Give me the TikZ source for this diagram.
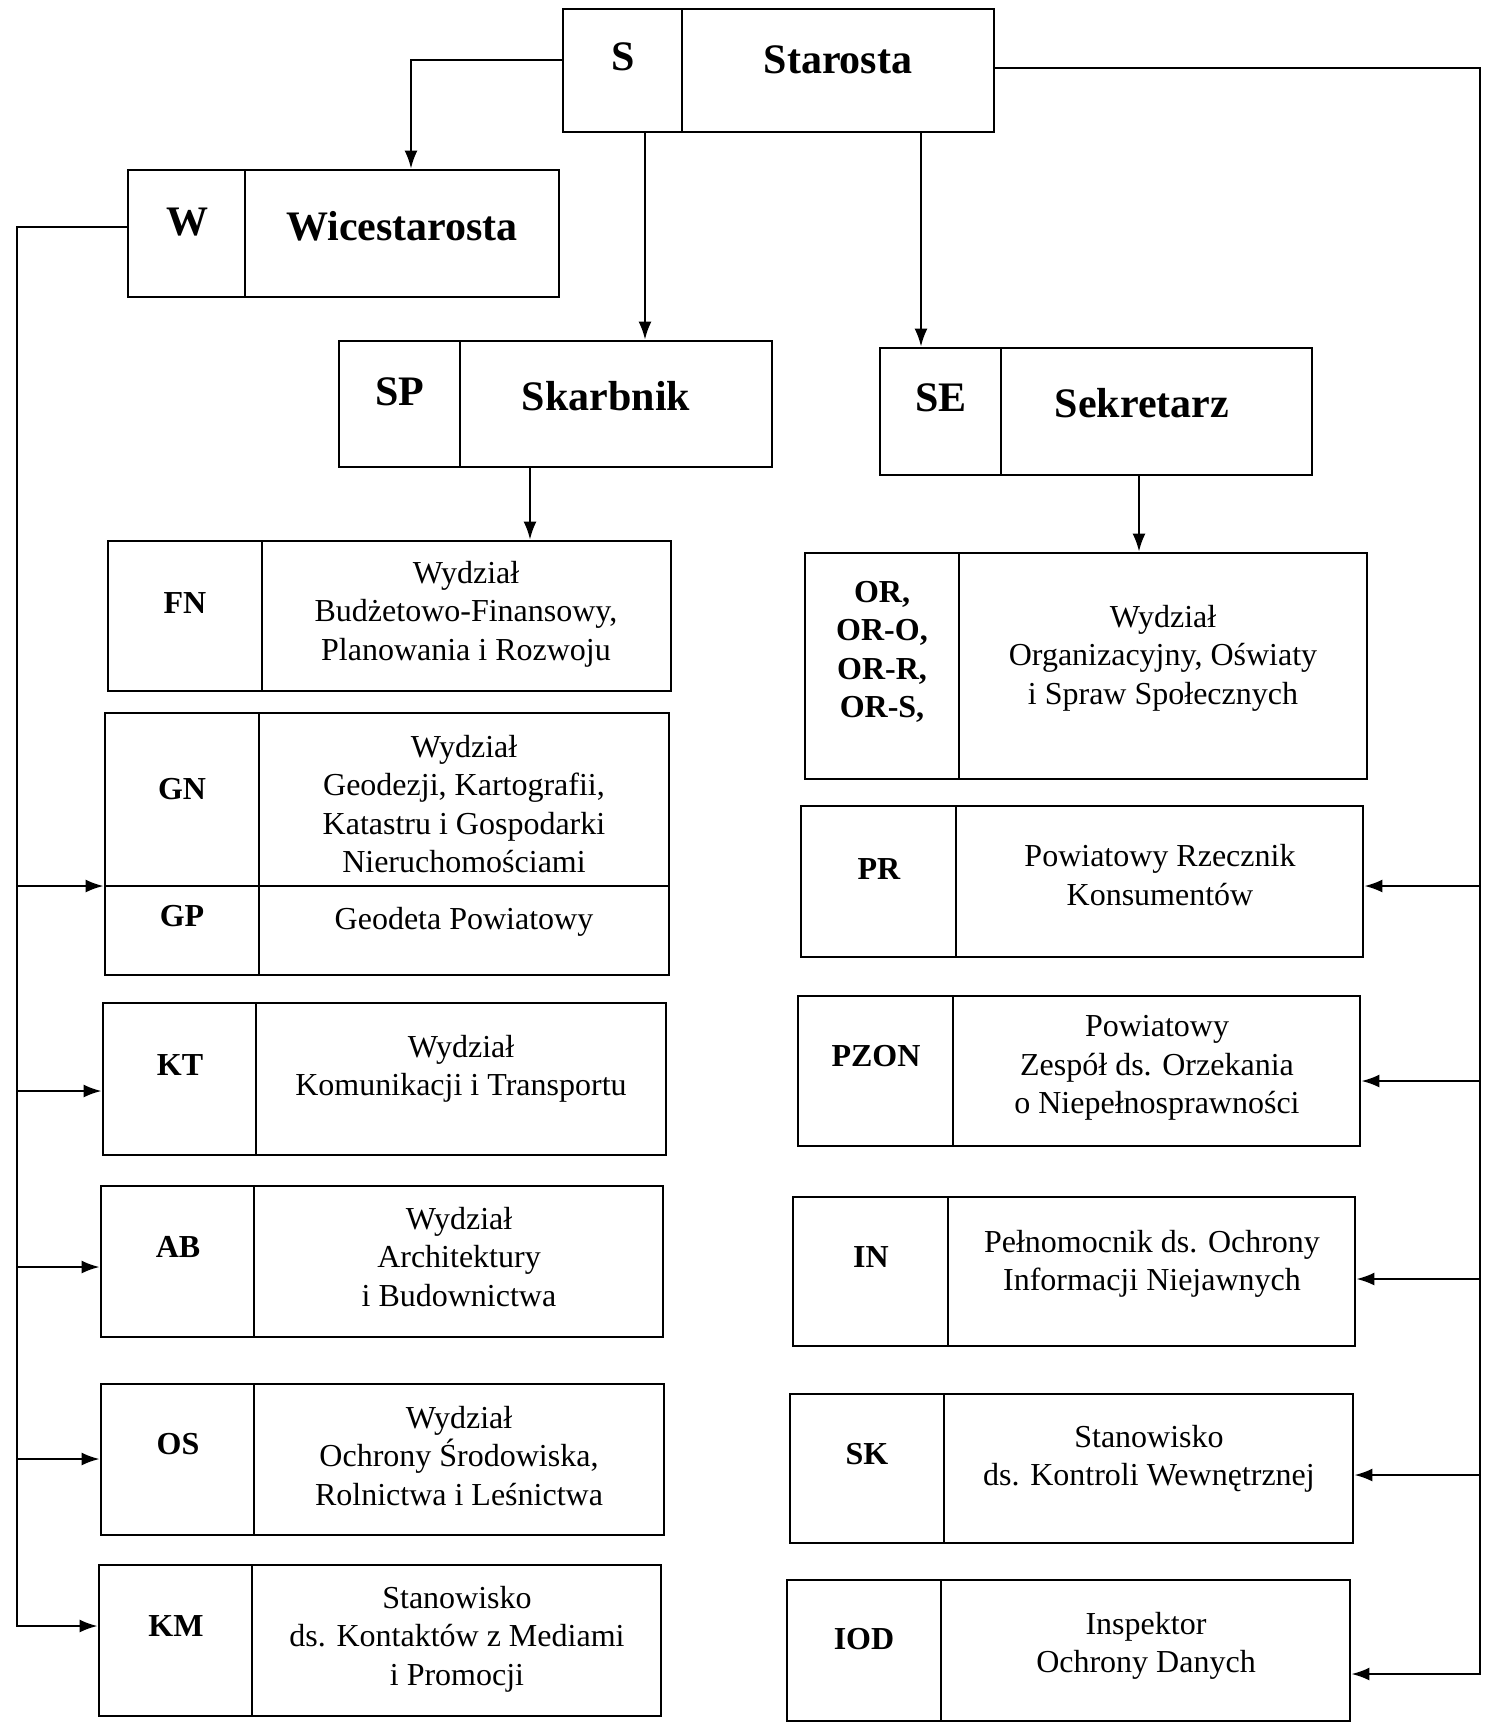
\documentclass[tikz,border=0pt]{standalone}
\usepackage{fontspec}
\setmainfont{Liberation Serif}
\usetikzlibrary{arrows.meta,fit}
\newcommand\orgframe[6]{%
  \coordinate (#1-a) at (#2,#3);
  \coordinate (#1-b) at (#4,#5);
  \node[frm, fit=(#1-a)(#1-b)] (#1) {};
  \draw[frmline] (#6,#3) -- (#6,#5);
}
\begin{document}
\begin{tikzpicture}[x=0.5pt,y=-0.5pt,
  frm/.style={draw, line width=1.4pt, inner sep=0pt, rectangle},
  frmline/.style={line width=1.4pt},
  ln/.style={line width=1.1pt},
  arr/.style={ln, -{Latex[length=9pt,width=6.5pt]}},
  big/.style={font=\fontsize{21}{25}\selectfont\bfseries, inner sep=0pt},
  code/.style={font=\fontsize{16}{19.25}\selectfont\bfseries, align=center, inner sep=0pt},
  txt/.style={font=\fontsize{16}{19.25}\selectfont, align=center, inner sep=0pt}]
\useasboundingbox[fill=white] (0,0) rectangle (1496,1725);

% top boxes
\orgframe{S}{563}{9}{994}{132}{682}
\node[big] (S-code) at (623,57) {S};
\node[big] (S-text) at (838,60) {Starosta};
\orgframe{W}{128}{170}{559}{297}{245}
\node[big] (W-code) at (187,222) {W};
\node[big] (W-text) at (402,226) {Wicestarosta};
\orgframe{SP}{339}{341}{772}{467}{460}
\node[big] (SP-code) at (400,392) {SP};
\node[big] (SP-text) at (606,396) {Skarbnik};
\orgframe{SE}{880}{348}{1312}{475}{1001}
\node[big] (SE-code) at (941,398) {SE};
\node[big] (SE-text) at (1142,403) {Sekretarz};

% left column
\orgframe{FN}{108}{541}{671}{691}{262}
\node[code] (FN-code) at (185,603) {FN};
\node[txt] (FN-text) at (466,614) {Wydział\\Budżetowo-Finansowy,\\Planowania i Rozwoju};
\orgframe{GN}{105}{713}{669}{975}{259}
\draw[frmline] (105,886) -- (669,886);
\node[code] (GN-code) at (182,789) {GN};
\node[txt] (GN-text) at (464,804) {Wydział\\Geodezji, Kartografii,\\Katastru i Gospodarki\\Nieruchomościami};
\node[code] (GP-code) at (182,916) {GP};
\node[txt] (GP-text) at (464,922) {Geodeta Powiatowy};
\orgframe{KT}{103}{1003}{666}{1155}{256}
\node[code] (KT-code) at (180,1065) {KT};
\node[txt] (KT-text) at (461,1069) {Wydział\\Komunikacji i Transportu};
\orgframe{AB}{101}{1186}{663}{1337}{254}
\node[code] (AB-code) at (178,1247) {AB};
\node[txt] (AB-text) at (459,1257) {Wydział\\Architektury\\i Budownictwa};
\orgframe{OS}{101}{1384}{664}{1535}{254}
\node[code] (OS-code) at (178,1444) {OS};
\node[txt] (OS-text) at (459,1456) {Wydział\\Ochrony Środowiska,\\Rolnictwa i Leśnictwa};
\orgframe{KM}{99}{1565}{661}{1716}{252}
\node[code] (KM-code) at (176,1626) {KM};
\node[txt] (KM-text) at (457,1639) {Stanowisko\\ds. Kontaktów z Mediami\\i Promocji};

% right column
\orgframe{OR}{805}{553}{1367}{779}{959}
\node[code] (OR-code) at (882,652) {OR,\\OR-O,\\OR-R,\\OR-S,};
\node[txt] (OR-text) at (1163,658) {Wydział\\Organizacyjny, Oświaty\\i Spraw Społecznych};
\orgframe{PR}{801}{806}{1363}{957}{956}
\node[code] (PR-code) at (879,869) {PR};
\node[txt] (PR-text) at (1160,875) {Powiatowy Rzecznik\\Konsumentów};
\orgframe{PZON}{798}{996}{1360}{1146}{953}
\node[code] (PZON-code) at (876,1056) {PZON};
\node[txt] (PZON-text) at (1157,1068) {Powiatowy\\Zespół ds. Orzekania\\o Niepełnosprawności};
\orgframe{IN}{793}{1197}{1355}{1346}{948}
\node[code] (IN-code) at (871,1257) {IN};
\node[txt] (IN-text) at (1152,1264) {Pełnomocnik ds. Ochrony\\Informacji Niejawnych};
\orgframe{SK}{790}{1394}{1353}{1543}{944}
\node[code] (SK-code) at (867,1454) {SK};
\node[txt] (SK-text) at (1149,1459) {Stanowisko\\ds. Kontroli Wewnętrznej};
\orgframe{IOD}{787}{1580}{1350}{1721}{941}
\node[code] (IOD-code) at (864,1639) {IOD};
\node[txt] (IOD-text) at (1146,1646) {Inspektor\\Ochrony Danych};

% top connectors
\draw[arr] (S.west |- 0,60) -| (W.north -| 411,0);
\draw[arr] (S.south -| 645,0) -- (SP.north -| 645,0);
\draw[arr] (S.south -| 921,0) -- (SE.north -| 921,0);
\draw[arr] (SP.south -| 530,0) -- (FN.north -| 530,0);
\draw[arr] (SE.south -| 1139,0) -- (OR.north -| 1139,0);

% left bus
\coordinate (lbt) at (17,227);
\coordinate (lb-gn) at (17,886);
\coordinate (lb-kt) at (17,1091);
\coordinate (lb-ab) at (17,1267);
\coordinate (lb-os) at (17,1459);
\coordinate (lb-km) at (17,1626);
\draw[arr] (W.west |- lbt) -- (lbt) |- (KM.west |- lb-km);
\draw[arr] (lb-gn) -- (GN.west |- lb-gn);
\draw[arr] (lb-kt) -- (KT.west |- lb-kt);
\draw[arr] (lb-ab) -- (AB.west |- lb-ab);
\draw[arr] (lb-os) -- (OS.west |- lb-os);

% right bus
\coordinate (rbt) at (1480,68);
\coordinate (rb-pr) at (1480,886);
\coordinate (rb-pzon) at (1480,1081);
\coordinate (rb-in) at (1480,1279);
\coordinate (rb-sk) at (1480,1475);
\coordinate (rb-iod) at (1480,1674);
\draw[arr] (S.east |- rbt) -- (rbt) |- (IOD.east |- rb-iod);
\draw[arr] (rb-pr) -- (PR.east |- rb-pr);
\draw[arr] (rb-pzon) -- (PZON.east |- rb-pzon);
\draw[arr] (rb-in) -- (IN.east |- rb-in);
\draw[arr] (rb-sk) -- (SK.east |- rb-sk);
\end{tikzpicture}
\end{document}
